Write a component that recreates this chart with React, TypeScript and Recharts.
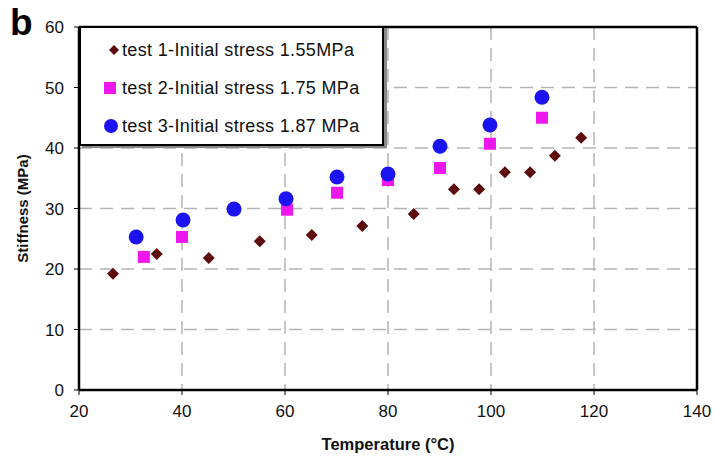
import React from 'react';
import {
  ScatterChart,
  Scatter,
  XAxis,
  YAxis,
  CartesianGrid,
  ReferenceLine,
} from 'recharts';

// test 1 - initial stress 1.55 MPa
const test1Temp = [26.6, 35.1, 45.2, 55.1, 65.2, 75, 85, 92.8, 97.7, 102.7, 107.6, 112.4, 117.5];
const test1Stiff = [19.2, 22.5, 21.8, 24.6, 25.6, 27.1, 29.1, 33.2, 33.2, 36.0, 36.0, 38.7, 41.7];
// test 2 - initial stress 1.75 MPa
const test2Temp = [32.6, 40, 60.4, 70.1, 80, 90.1, 99.8, 109.9];
const test2Stiff = [22.0, 25.3, 29.8, 32.6, 34.7, 36.7, 40.7, 45.0];
// test 3 - initial stress 1.87 MPa
const test3Temp = [31.1, 40.2, 50.1, 60.2, 70.1, 80, 90.1, 99.8, 109.9];
const test3Stiff = [25.3, 28.1, 29.9, 31.6, 35.2, 35.7, 40.3, 43.8, 48.4];

const xTicks = [20, 40, 60, 80, 100, 120, 140];
const yTicks = [0, 10, 20, 30, 40, 50, 60];

const seriesNames = [
  'test 1-Initial stress 1.55MPa',
  'test 2-Initial stress 1.75 MPa',
  'test 3-Initial stress 1.87 MPa',
];
const colors = ['#5c0a0c', '#ee18ee', '#1c14f0'];

const toPoints = (xs: number[], ys: number[]) => xs.map((t, i) => ({ t, s: ys[i] }));

const Diamond = (props: any) => {
  const { cx, cy } = props;
  const r = 6;
  return <polygon points={`${cx},${cy - r} ${cx + r},${cy} ${cx},${cy + r} ${cx - r},${cy}`} fill={colors[0]} />;
};
const Square = (props: any) => {
  const { cx, cy } = props;
  return <rect x={cx - 6} y={cy - 6} width={12} height={12} fill={colors[1]} />;
};
const Circle = (props: any) => {
  const { cx, cy } = props;
  return <circle cx={cx} cy={cy} r={7.5} fill={colors[2]} />;
};

const font = 'Arial, "Liberation Sans", sans-serif';

const LegendBox = () => {
  const icons = [
    <svg width={12} height={12}><polygon points="6,1 11,6 6,11 1,6" fill={colors[0]} /></svg>,
    <svg width={12} height={12}><rect x={0} y={0} width={12} height={12} fill={colors[1]} /></svg>,
    <svg width={14} height={14}><circle cx={7} cy={7} r={7} fill={colors[2]} /></svg>,
  ];
  return (
    <div
      style={{
        position: 'absolute',
        left: 79,
        top: 26,
        width: 305,
        height: 120,
        border: '2px solid #000',
        boxShadow: '3px 2px 0 #888',
        background: '#fff',
        boxSizing: 'border-box',
        fontFamily: font,
        fontSize: 18,
        letterSpacing: 0.35,
        color: '#111',
        paddingTop: 3,
      }}
    >
      {seriesNames.map((n, i) => (
        <div key={n} style={{ display: 'flex', alignItems: 'center', height: 38, paddingLeft: i === 0 ? 27 : 23 }}>
          <span style={{ display: 'inline-flex', width: i === 0 ? 14 : 18 }}>{icons[i]}</span>
          <span>{n}</span>
        </div>
      ))}
    </div>
  );
};

export default function App() {
  const tickStyle = { fontSize: 17, fill: '#111', fontFamily: font };
  return (
    <div style={{ position: 'absolute', left: 0, top: 0, width: 715, height: 460, background: '#fff' }}>
      <ScatterChart width={715} height={460} margin={{ top: 27, right: 18, bottom: 20, left: 39 }}>
        <CartesianGrid stroke="#b4b4b4" strokeWidth={1.5} strokeDasharray="13 8" />
        <XAxis
          type="number"
          dataKey="t"
          domain={[20, 140]}
          ticks={xTicks}
          height={50}
          axisLine={{ stroke: '#000', strokeWidth: 2.5 }}
          tickLine={{ stroke: '#000' }}
          tickSize={5}
          tick={tickStyle}
          tickMargin={10}
          label={{ value: 'Temperature (°C)', position: 'insideBottom', offset: -10, style: { fontSize: 16.5, fontWeight: 'bold', fill: '#111', fontFamily: font } }}
        />
        <YAxis
          type="number"
          dataKey="s"
          domain={[0, 60]}
          ticks={yTicks}
          width={40}
          axisLine={{ stroke: '#000', strokeWidth: 2.5 }}
          tickLine={{ stroke: '#000' }}
          tickSize={5}
          tick={tickStyle}
          tickMargin={10}
          label={{ value: 'Stiffness (MPa)', angle: -90, position: 'insideLeft', offset: -16, style: { textAnchor: 'middle', fontSize: 15, fontWeight: 'bold', fill: '#111', fontFamily: font } }}
        />
        <ReferenceLine x={140} stroke="#000" strokeWidth={2.5} />
        <ReferenceLine y={60} stroke="#000" strokeWidth={2.5} />
        <Scatter name={seriesNames[0]} data={toPoints(test1Temp, test1Stiff)} shape={Diamond} isAnimationActive={false} />
        <Scatter name={seriesNames[1]} data={toPoints(test2Temp, test2Stiff)} shape={Square} isAnimationActive={false} />
        <Scatter name={seriesNames[2]} data={toPoints(test3Temp, test3Stiff)} shape={Circle} isAnimationActive={false} />
      </ScatterChart>
      <LegendBox />
      <div style={{ position: 'absolute', left: 10, top: 2, fontFamily: font, fontWeight: 'bold', fontSize: 37, color: '#000' }}>b</div>
    </div>
  );
}
